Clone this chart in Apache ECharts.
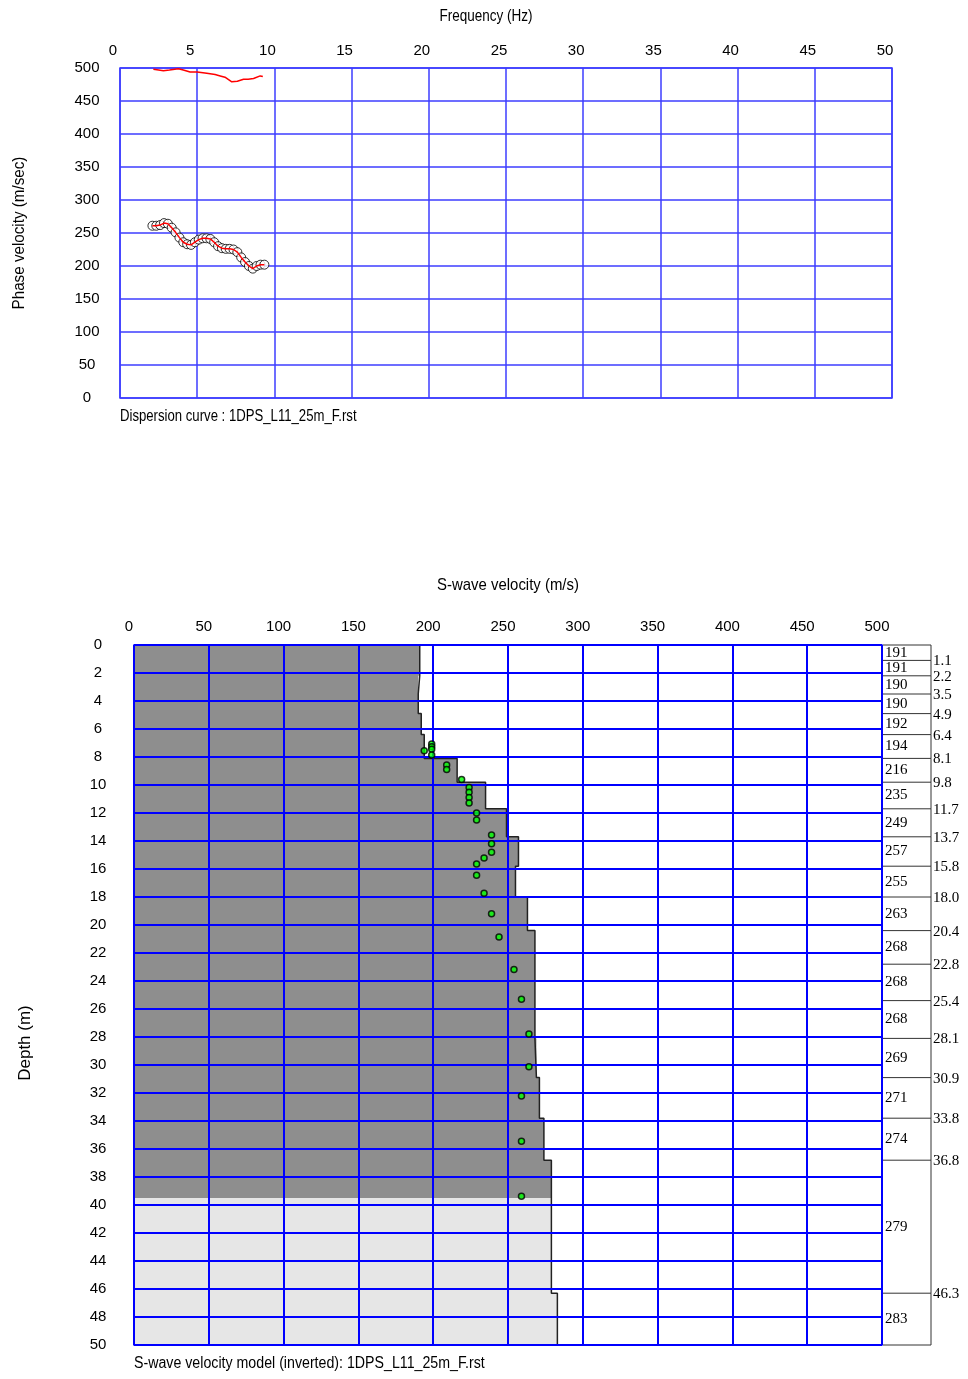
<!DOCTYPE html>
<html><head><meta charset="utf-8">
<script src="https://cdn.jsdelivr.net/npm/echarts@6/dist/echarts.min.js"></script>
<style>html,body{margin:0;padding:0;background:#fff}#c{width:968px;height:1379px}</style>
</head><body><div id="c"></div><script>
// ---- Dispersion curve (top) ----
const dispFreq = [2.10,2.35,2.60,2.85,3.10,3.35,3.60,3.85,4.10,4.35,4.60,4.85,5.10,5.35,5.60,5.85,6.10,6.35,6.60,6.85,7.10,7.35,7.60,7.85,8.10,8.35,8.60,8.85,9.10,9.35];
const dispVel  = [261,261,262,265,264,258,251,243,236,233,232,236,240,242,242,241,236,230,227,226,226,225,221,213,206,200,196,200,202,202];
const upperFreq = [2.16,2.5,2.81,3.2,3.78,4.1,4.54,5.0,5.62,6.16,6.49,6.8,7.24,7.6,8.0,8.3,8.65,9.08,9.25];
const upperVel  = [498,497,496,497,499,497,494,494,492,490,488,486,479,480,483,483,484,488,487];
// ---- S-wave velocity model (bottom) ----
const layerTop    = [0,1.1,2.2,3.5,4.9,6.4,8.1,9.8,11.7,13.7,15.8,18.0,20.4,22.8,25.4,28.1,30.9,33.8,36.8,46.3];
const layerBottom = [1.1,2.2,3.5,4.9,6.4,8.1,9.8,11.7,13.7,15.8,18.0,20.4,22.8,25.4,28.1,30.9,33.8,36.8,46.3,50];
const layerVs     = [191,191,190,190,192,194,216,235,249,257,255,263,268,268,268,269,271,274,279,283];
const depthLabels = ['1.1','2.2','3.5','4.9','6.4','8.1','9.8','11.7','13.7','15.8','18.0','20.4','22.8','25.4','28.1','30.9','33.8','36.8','46.3',''];
const reliableDepth = 39.5;
const obsVs    = [194,199,199,199,199,209,209,219,224,224,224,224,229,229,239,239,239,234,229,229,234,239,244,254,259,264,264,259,259,259];
const obsDepth = [7.55,7.07,7.26,7.45,7.86,8.57,8.9,9.6,10.17,10.52,10.9,11.29,12.0,12.5,13.57,14.19,14.81,15.21,15.64,16.45,17.74,19.19,20.86,23.17,25.31,27.79,30.12,32.21,35.45,39.38];
const titleFreq = 'Frequency (Hz)';
const titlePhase = 'Phase velocity (m/sec)';
const captionTop = 'Dispersion curve : 1DPS_L11_25m_F.rst';
const titleVs = 'S-wave velocity (m/s)';
const titleDepth = 'Depth (m)';
const captionBottom = 'S-wave velocity model (inverted): 1DPS_L11_25m_F.rst';

const sans = "'Liberation Sans',Arial,sans-serif";
const serif = "'Liberation Serif','Times New Roman',serif";

const layers = layerTop.map((t,i)=>[t, layerBottom[i], layerVs[i], i]);
const outline = [];
layers.forEach(l=>{ outline.push([l[2], l[0]]); outline.push([l[2], l[1]]); });
const yMax = layerBottom[layerBottom.length-1];

const chart = echarts.init(document.getElementById('c'), null, {renderer:'canvas'});
const lblStyle = {color:'#000', fontFamily:sans, fontSize:15};
function ttl(text, x, y, size, sx, rot, align){
  return {type:'text', x:x, y:y, rotation:rot||0, scaleX:sx, scaleY:1,
    style:{text:text, font:size+'px '+sans, fill:'#000', align:align||'center', verticalAlign:'middle'}};
}
chart.setOption({
  animation:false,
  backgroundColor:'#fff',
  grid:[
    {left:120, top:68, width:772, height:330, show:true, borderColor:'#3c3cff', borderWidth:1.5, backgroundColor:'transparent'},
    {left:134, top:645, width:748, height:700, show:true, borderColor:'#8080ff', borderWidth:2},
    {left:883, top:645, width:48, height:700, show:false}
  ],
  xAxis:[
    {gridIndex:0, type:'value', position:'top', min:0, max:50, interval:5, z:3,
     axisLine:{show:false}, axisTick:{show:false},
     axisLabel:Object.assign({margin:10, padding:[0,14,0,0]}, lblStyle),
     splitLine:{show:true, lineStyle:{color:'#3c3cff', width:1.5}}},
    {gridIndex:1, type:'value', position:'top', min:0, max:500, interval:50, z:3,
     axisLine:{show:false}, axisTick:{show:false},
     axisLabel:Object.assign({margin:11, padding:[0,10,0,0]}, lblStyle),
     splitLine:{show:true, lineStyle:{color:'#0000ff', width:2}}},
    {gridIndex:2, type:'value', min:0, max:1, show:false}
  ],
  yAxis:[
    {gridIndex:0, type:'value', min:0, max:500, interval:50, z:3,
     axisLine:{show:false}, axisTick:{show:false},
     axisLabel:Object.assign({margin:33, align:'center'}, lblStyle),
     splitLine:{show:true, lineStyle:{color:'#3c3cff', width:1.5}}},
    {gridIndex:1, type:'value', min:0, max:50, interval:2, inverse:true, z:3,
     axisLine:{show:false}, axisTick:{show:false},
     axisLabel:Object.assign({margin:36, align:'center'}, lblStyle),
     splitLine:{show:true, lineStyle:{color:'#0000ff', width:2}}},
    {gridIndex:2, type:'value', min:0, max:50, inverse:true, show:false}
  ],
  graphic:[
    ttl(titleFreq, 486, 16, 17, 0.794),
    ttl(titlePhase, 19, 233, 17, 0.894, Math.PI/2),
    ttl(captionTop, 120, 417, 16, 0.822, 0, 'left'),
    ttl(titleVs, 508, 585, 17, 0.878),
    ttl(titleDepth, 25, 1043, 17, 1.0, Math.PI/2),
    ttl(captionBottom, 134, 1364, 16, 0.887, 0, 'left')
  ],
  series:[
    {type:'scatter', xAxisIndex:0, yAxisIndex:0, z:4, symbol:'circle', symbolSize:9,
     itemStyle:{color:'#fff', borderColor:'#000', borderWidth:1},
     data:dispFreq.map((f,i)=>[f, dispVel[i]])},
    {type:'line', xAxisIndex:0, yAxisIndex:0, z:5, symbol:'none',
     lineStyle:{color:'#ff0000', width:1.5},
     data:dispFreq.map((f,i)=>[f, dispVel[i]])},
    {type:'line', xAxisIndex:0, yAxisIndex:0, z:5, symbol:'none',
     lineStyle:{color:'#ff0000', width:1.5},
     data:upperFreq.map((f,i)=>[f, upperVel[i]])},
    {type:'custom', xAxisIndex:1, yAxisIndex:1, z:1, silent:true,
     data:[[0, reliableDepth]],
     renderItem:function(params, api){
       const rd = reliableDepth;
       const dark=[api.coord([0,0])], light=[api.coord([0,rd])];
       layers.forEach(l=>{
         const t=l[0], b=l[1], v=l[2];
         if (t<rd){ dark.push(api.coord([v,t])); dark.push(api.coord([v,Math.min(b,rd)])); }
         if (b>rd){ light.push(api.coord([v,Math.max(t,rd)])); light.push(api.coord([v,b])); }
       });
       dark.push(api.coord([0,rd]));
       light.push(api.coord([0,yMax]));
       return {type:'group', children:[
         {type:'polygon', shape:{points:dark}, style:{fill:'#8e8e8e'}},
         {type:'polygon', shape:{points:light}, style:{fill:'#e6e6e6'}}
       ]};
     }},
    {type:'line', xAxisIndex:1, yAxisIndex:1, z:2, symbol:'none',
     lineStyle:{color:'#222', width:1.5}, data:outline},
    {type:'scatter', xAxisIndex:1, yAxisIndex:1, z:6, symbol:'circle', symbolSize:6,
     itemStyle:{color:'#00ff00', borderColor:'#000', borderWidth:1.5},
     data:obsVs.map((v,i)=>[v, obsDepth[i]])},
    {type:'custom', xAxisIndex:2, yAxisIndex:2, z:2, silent:true,
     data:layers,
     renderItem:function(params, api){
       const top=api.value(0), bot=api.value(1), vs=api.value(2), idx=api.value(3);
       const lab = depthLabels[idx];
       const a=api.coord([0,top]), b=api.coord([1,bot]);
       const x0=a[0], y0=a[1], x1=b[0], y1=b[1];
       const ch=[];
       ch.push({type:'line', shape:{x1:x0, y1:y0, x2:x1, y2:y0}, style:{stroke:'#333', lineWidth:1}});
       ch.push({type:'line', shape:{x1:x1, y1:y0, x2:x1, y2:y1}, style:{stroke:'#333', lineWidth:1}});
       if (idx===layers.length-1) ch.push({type:'line', shape:{x1:x0, y1:y1, x2:x1, y2:y1}, style:{stroke:'#333', lineWidth:1}});
       ch.push({type:'text', x:x0+2, y:(y0+y1)/2, style:{text:String(vs), font:'15px '+serif, fill:'#000', align:'left', verticalAlign:'middle'}});
       if (lab) ch.push({type:'text', x:x1+2, y:y1+1, style:{text:lab, font:'15px '+serif, fill:'#000', align:'left', verticalAlign:'middle'}});
       return {type:'group', children:ch};
     }}
  ]
});
</script></body></html>
